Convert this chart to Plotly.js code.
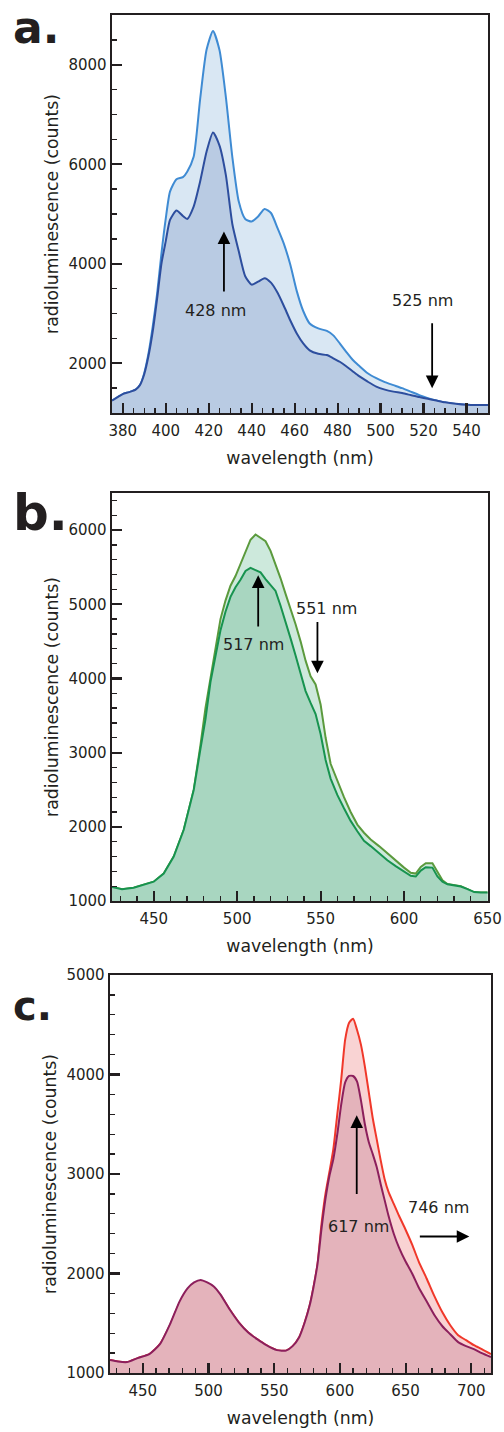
<!DOCTYPE html>
<html>
<head>
<meta charset="utf-8">
<script src="https://cdn.plot.ly/plotly-3.0.1.min.js"></script>
<style>html,body{margin:0;padding:0;background:#fff;}#chart{width:504px;height:1432px;}</style>
</head>
<body>
<div id="chart"></div>
<script>
// ---- Panel a (blue) ----
const aWavelength = [375,378,380,383,386,388,390,392,394,396,398,400,402,405,408,410,413,416,419,422,425,428,431,434,437,440,443,446,449,452,455,458,461,464,467,471,475,478,481,484,487,490,494,498,502,506,510,514,518,522,526,530,535,540,545,550];
const aOuter = [1250,1330,1380,1420,1470,1560,1800,2200,2750,3400,4200,4900,5450,5700,5740,5850,6150,7300,8300,8680,8300,7350,6150,5250,4900,4850,4950,5100,5020,4720,4400,3980,3450,3050,2800,2700,2650,2560,2400,2230,2070,1950,1800,1700,1620,1560,1500,1430,1360,1300,1250,1210,1180,1165,1160,1160];
const aInner = [1250,1330,1380,1420,1470,1560,1780,2150,2650,3300,4000,4450,4880,5070,4960,4900,5150,5650,6250,6640,6380,5780,4800,4250,3750,3580,3640,3710,3620,3420,3150,2860,2600,2400,2260,2190,2165,2100,2030,1940,1840,1740,1630,1530,1470,1430,1400,1360,1320,1285,1250,1215,1185,1165,1160,1160];

// ---- Panel b (green) ----
const bWavelength = [425,431,438,444,450,456,462,468,474,478,481,484,487,490,493,496,499,502,505,508,511,514,517,520,523,526,529,532,535,538,541,544,547,550,553,556,560,564,568,572,576,580,585,590,595,600,604,607,610,613,617,620,623,626,630,634,638,642,646,650];
const bOuter = [1190,1160,1180,1220,1260,1370,1600,1960,2500,3100,3600,4000,4400,4800,5050,5250,5380,5550,5720,5870,5940,5900,5850,5720,5540,5350,5140,4940,4730,4500,4240,4030,3920,3650,3200,2850,2620,2400,2200,2030,1920,1830,1740,1640,1540,1450,1380,1370,1460,1510,1510,1390,1280,1230,1210,1200,1160,1120,1115,1115];
const bInner = [1190,1160,1180,1220,1260,1370,1600,1960,2500,3050,3450,3950,4300,4650,4900,5100,5230,5330,5450,5490,5460,5430,5340,5260,5180,4980,4770,4540,4310,4060,3830,3670,3520,3250,2900,2650,2430,2250,2080,1940,1810,1740,1640,1550,1470,1400,1340,1330,1410,1455,1450,1330,1260,1225,1210,1195,1160,1120,1115,1115];

// ---- Panel c (red) ----
const cWavelength = [425,431,438,446,455,463,471,478,484,489,494,499,504,509,516,523,530,537,544,552,559,564,569,573,577,580,583,586,589,592,595,598,601,604,607,610,613,616,619,622,625,628,631,634,637,641,645,650,655,660,666,672,678,684,690,696,702,708,715];
const cOuter = [1130,1115,1110,1150,1190,1290,1490,1710,1835,1895,1915,1900,1860,1785,1640,1510,1410,1340,1280,1230,1225,1270,1360,1500,1680,1870,2100,2500,2800,3020,3250,3600,3950,4350,4520,4560,4450,4300,4080,3820,3560,3350,3140,2950,2820,2700,2580,2440,2290,2120,1950,1770,1610,1480,1380,1330,1280,1240,1190];
const cInner = [1130,1115,1110,1150,1190,1290,1500,1720,1850,1910,1935,1910,1870,1790,1640,1510,1410,1340,1280,1230,1225,1270,1360,1500,1680,1870,2100,2450,2750,2980,3150,3400,3700,3920,3985,3985,3930,3740,3500,3320,3200,3070,2900,2740,2580,2400,2260,2120,2000,1860,1720,1580,1470,1390,1310,1270,1240,1200,1160];

// ---- Labels ----
const panelLabels = ['a.', 'b.', 'c.'];
const peakLabels = {a: ['428 nm', '525 nm'], b: ['517 nm', '551 nm'], c: ['617 nm', '746 nm']};
const xTitle = 'wavelength (nm)';
const yTitle = 'radioluminescence (counts)';

const FONT = '"DejaVu Sans", sans-serif';
const INK = '#231f20';
const W = 504, H = 1432;

function trace(x, y, xa, ya, line, fill, shape) {
  return {x: x, y: y, xaxis: xa, yaxis: ya, type: 'scatter', mode: 'lines',
    line: {color: line, width: 2, shape: shape, smoothing: 0.6}, fill: 'tozeroy', fillcolor: fill,
    hoverinfo: 'skip', showlegend: false};
}

const data = [
  trace(aWavelength, aOuter, 'x', 'y', '#3f8bd3', '#d9e7f3', 'spline'),
  trace(aWavelength, aInner, 'x', 'y', '#2d4e9e', '#b9cbe3', 'spline'),
  trace(bWavelength, bOuter, 'x2', 'y2', '#5b9a3d', '#cde9dc', 'linear'),
  trace(bWavelength, bInner, 'x2', 'y2', '#17934f', '#a8d6c0', 'linear'),
  trace(cWavelength, cOuter, 'x3', 'y3', '#f0382a', '#f9d3d3', 'spline'),
  trace(cWavelength, cInner, 'x3', 'y3', '#8c1f5c', '#e4b3bb', 'spline')
];

function xax(domL, domR, anchor, range, dtick, minor) {
  return {domain: [domL / W, domR / W], anchor: anchor, range: range, dtick: dtick, tick0: 0,
    ticks: 'inside', ticklen: 10, tickwidth: 2.2, tickcolor: INK,
    minor: {dtick: minor, ticks: 'inside', ticklen: 5, tickwidth: 1.3, tickcolor: INK},
    showline: true, mirror: true, linewidth: 2.4, linecolor: INK, showgrid: false, zeroline: false,
    tickfont: {family: FONT, size: 15, color: INK}, ticklabelstandoff: 3,
    title: {text: xTitle, font: {family: FONT, size: 17.3, color: INK}, standoff: 13}};
}
function yax(top, bottom, anchor, range, dtick, minor) {
  return {domain: [(H - bottom) / H, (H - top) / H], anchor: anchor, range: range, dtick: dtick, tick0: 0,
    ticks: 'inside', ticklen: 10, tickwidth: 2.2, tickcolor: INK,
    minor: {dtick: minor, ticks: 'inside', ticklen: 5, tickwidth: 1.3, tickcolor: INK},
    showline: true, mirror: true, linewidth: 2.4, linecolor: INK, showgrid: false, zeroline: false,
    tickfont: {family: FONT, size: 15, color: INK},
    title: {text: yTitle, font: {family: FONT, size: 17.3, color: INK}, standoff: 6}};
}

function arrow(xr, yr, x, y, ax, ay) {
  return {xref: xr, yref: yr, axref: xr, ayref: yr, x: x, y: y, ax: ax, ay: ay, text: '',
    showarrow: true, arrowhead: 2, arrowsize: 1.4, arrowwidth: 1.8, arrowcolor: '#000'};
}
function label(xr, yr, x, y, t) {
  return {xref: xr, yref: yr, x: x, y: y, text: t, showarrow: false,
    font: {family: FONT, size: 16, color: INK}};
}
function panel(t, baseline, size) {
  return {xref: 'paper', yref: 'paper', x: 11 / W, y: (H - baseline) / H, xanchor: 'left', yanchor: 'bottom',
    text: '<b>' + t + '</b>', showarrow: false, font: {family: FONT, size: size, color: INK}};
}

const layout = {
  width: W, height: H, margin: {l: 0, r: 0, t: 0, b: 0},
  paper_bgcolor: '#fff', plot_bgcolor: '#fff', showlegend: false,
  font: {family: FONT, color: INK},
  xaxis: xax(112, 488, 'y', [375, 550], 20, 5),
  yaxis: yax(15, 413, 'x', [1000, 9000], 2000, 500),
  xaxis2: xax(112, 488, 'y2', [425, 650.3], 50, 10),
  yaxis2: yax(493, 901, 'x2', [1000, 6500], 1000, 200),
  xaxis3: xax(110, 491, 'y3', [425, 715], 50, 10),
  yaxis3: yax(975, 1373, 'x3', [1000, 5000], 1000, 200),
  annotations: [
    panel(panelLabels[0], 55, 44),
    panel(panelLabels[1], 544, 50),
    panel(panelLabels[2], 1031, 40),
    arrow('x', 'y', 427.1, 4650, 427.1, 3410),
    label('x', 'y', 423.4, 3070, peakLabels.a[0]),
    arrow('x', 'y', 524.0, 1500, 524.0, 2835),
    label('x', 'y', 519.7, 3257, peakLabels.a[1]),
    arrow('x2', 'y2', 512.6, 5390, 512.6, 4680),
    label('x2', 'y2', 510.0, 4453, peakLabels.b[0]),
    arrow('x2', 'y2', 548.1, 4070, 548.1, 4780),
    label('x2', 'y2', 553.5, 4948, peakLabels.b[1]),
    arrow('x3', 'y3', 612.8, 3590, 612.8, 2784),
    label('x3', 'y3', 614.5, 2473, peakLabels.c[0]),
    arrow('x3', 'y3', 698.5, 2372, 659.7, 2372),
    label('x3', 'y3', 674.7, 2667, peakLabels.c[1])
  ]
};

Plotly.newPlot('chart', data, layout, {staticPlot: true, displayModeBar: false});
</script>
</body>
</html>
